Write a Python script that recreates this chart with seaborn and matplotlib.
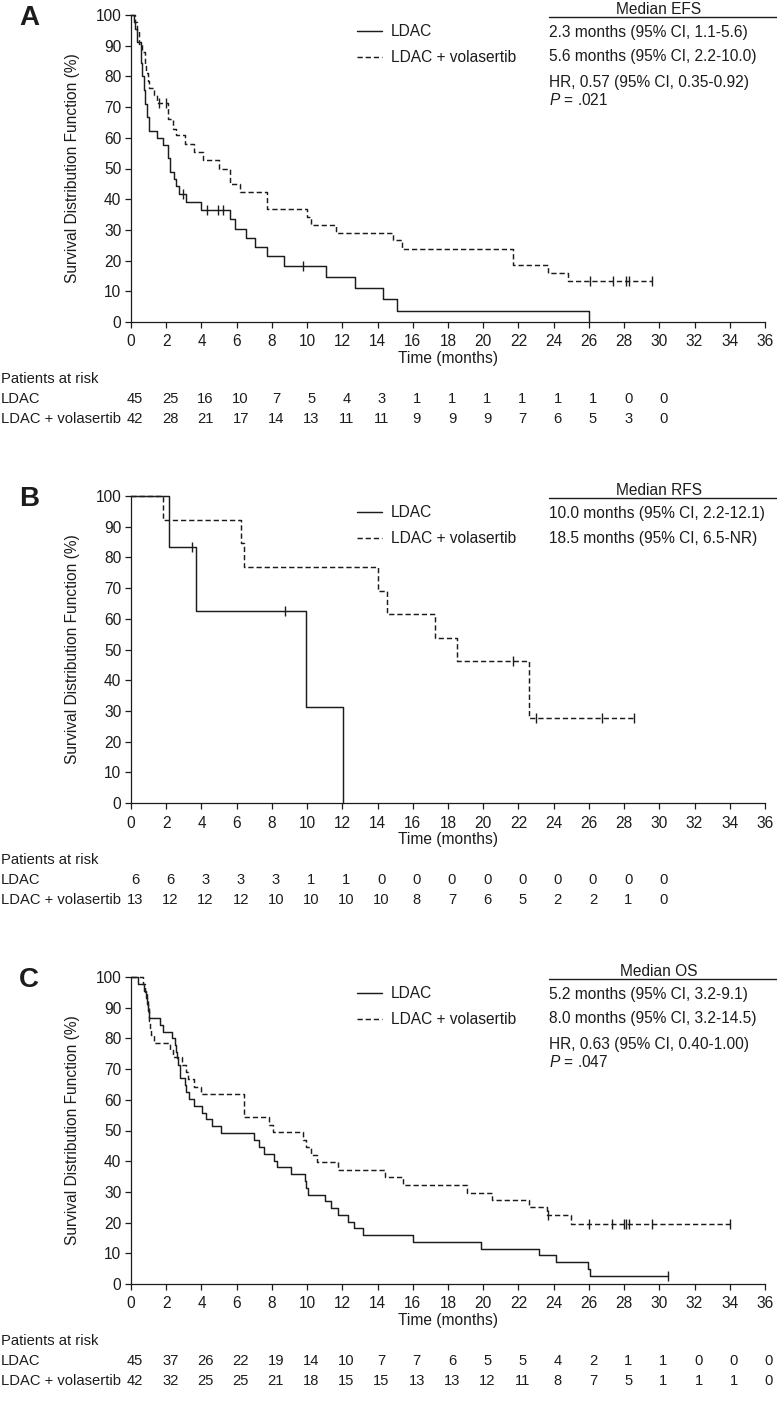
import numpy as np
import pandas as pd
import matplotlib
matplotlib.use("Agg")
import matplotlib.pyplot as plt
import matplotlib.transforms as mtransforms
from matplotlib.lines import Line2D
import seaborn as sns

# ------------------------------------------------------------------ data
tick_months = list(range(0, 37, 2))
risk_months_ab = list(range(0, 31, 2))
risk_months_c = list(range(0, 37, 2))

# Panel A - EFS
a_ldac_t = [0, 0.15, 0.25, 0.35, 0.55, 0.65, 0.75, 0.82, 0.9, 1.0, 1.5, 1.8, 2.1, 2.2,
            2.45, 2.55, 2.7, 3.15, 4.0, 5.6, 5.9, 6.55, 7.05, 7.75, 8.7, 11.1, 12.7,
            14.3, 15.1, 26.0]
a_ldac_s = [100, 97.8, 95.6, 91.1, 84.4, 80.0, 75.6, 71.1, 66.7, 62.2, 60.0, 57.8, 53.3, 48.9,
            46.7, 44.4, 41.8, 39.0, 36.6, 33.6, 30.4, 27.3, 24.4, 21.4, 18.4, 14.7, 11.0,
            7.4, 3.7, 0.0]
a_ldac_cens = [2.95, 4.3, 4.95, 5.25, 9.75]

a_vol_t = [0, 0.23, 0.35, 0.46, 0.62, 0.77, 0.85, 0.97, 1.05, 1.29, 1.45, 2.10, 2.39, 2.55,
           3.09, 3.59, 4.09, 5.02, 5.60, 6.18, 7.70, 9.98, 10.23, 11.62, 14.9, 15.4, 21.7,
           23.7, 24.8, 29.6]
a_vol_s = [100, 97.6, 95.2, 90.5, 88.1, 83.3, 81.0, 78.6, 76.2, 73.8, 71.4, 66.0, 63.0, 60.8,
           58.0, 55.5, 52.8, 50.0, 44.8, 42.3, 36.8, 34.3, 31.7, 29.0, 26.6, 23.9, 18.7,
           16.0, 13.3, 13.3]
a_vol_cens = [1.6, 1.97, 26.05, 27.35, 28.1, 28.25, 29.6]

a_risk_ldac = [45, 25, 16, 10, 7, 5, 4, 3, 1, 1, 1, 1, 1, 1, 0, 0]
a_risk_vol = [42, 28, 21, 17, 14, 13, 11, 11, 9, 9, 9, 7, 6, 5, 3, 0]

# Panel B - RFS
b_ldac_t = [0, 2.16, 3.67, 9.96, 12.03]
b_ldac_s = [100, 83.3, 62.5, 31.2, 0.0]
b_ldac_cens = [3.44, 8.75]

b_vol_t = [0, 1.83, 6.22, 6.41, 14.03, 14.52, 17.24, 18.53, 22.58, 28.57]
b_vol_s = [100, 92.3, 84.6, 76.9, 69.2, 61.5, 53.8, 46.1, 27.7, 27.7]
b_vol_cens = [21.7, 22.97, 26.73, 28.57]

b_risk_ldac = [6, 6, 3, 3, 3, 1, 1, 0, 0, 0, 0, 0, 0, 0, 0, 0]
b_risk_vol = [13, 12, 12, 12, 10, 10, 10, 10, 8, 7, 6, 5, 2, 2, 1, 0]

# Panel C - OS
c_ldac_t = [0, 0.42, 0.75, 0.85, 0.92, 0.98, 1.04, 1.62, 1.83, 2.35, 2.48, 2.54, 2.6, 2.67,
            2.79, 3.08, 3.12, 3.27, 3.56, 4.02, 4.27, 4.6, 5.13, 6.96, 7.29, 7.54, 8.12,
            8.31, 9.08, 9.88, 9.95, 10.04, 11.0, 11.33, 11.77, 12.35, 12.67, 13.17, 16.0,
            19.85, 23.16, 24.12, 25.97, 26.05, 30.52]
c_ldac_s = [100, 97.8, 95.6, 93.3, 91.1, 88.9, 86.7, 84.4, 82.2, 80.0, 77.8, 75.6, 73.5, 71.3,
            67.0, 64.8, 62.6, 60.2, 58.0, 55.8, 53.6, 51.4, 49.1, 46.8, 44.6, 42.4, 40.2,
            38.0, 35.8, 33.5, 31.3, 29.1, 26.9, 24.7, 22.5, 20.3, 18.1, 15.9, 13.7,
            11.5, 9.3, 7.1, 4.9, 2.6, 2.6]
c_ldac_cens = [30.52]

c_vol_t = [0, 0.67, 0.8, 0.9, 0.95, 1.0, 1.05, 1.1, 1.15, 1.3, 2.19, 2.4, 2.92, 3.1, 3.21,
           3.56, 3.98, 6.44, 7.83, 8.08, 9.75, 9.94, 10.23, 10.56, 11.77, 14.42, 15.42,
           19.08, 20.52, 22.58, 23.6, 25.0, 34.0]
c_vol_s = [100, 97.6, 95.2, 92.9, 90.5, 88.1, 85.7, 83.3, 81.0, 78.6, 76.2, 73.8, 71.4, 69.0,
           66.7, 64.3, 61.9, 54.3, 51.7, 49.4, 47.0, 44.5, 42.1, 39.6, 37.2, 34.7, 32.2,
           29.8, 27.4, 25.0, 22.6, 19.7, 19.7]
c_vol_cens = [23.7, 26.0, 27.3, 28.0, 28.1, 28.25, 29.6, 34.0]

c_risk_ldac = [45, 37, 26, 22, 19, 14, 10, 7, 7, 6, 5, 5, 4, 2, 1, 1, 0, 0, 0]
c_risk_vol = [42, 32, 25, 25, 21, 18, 15, 15, 13, 13, 12, 11, 8, 7, 5, 1, 1, 1, 0]

group_names = ["LDAC", "LDAC + volasertib"]

panels = [
    dict(letter="A", header="Median EFS",
         rows=["2.3 months (95% CI, 1.1-5.6)", "5.6 months (95% CI, 2.2-10.0)",
               "HR, 0.57 (95% CI, 0.35-0.92)"], pval=".021",
         ldac=(a_ldac_t, a_ldac_s, a_ldac_cens), vol=(a_vol_t, a_vol_s, a_vol_cens),
         risk_t=risk_months_ab, risk_ldac=a_risk_ldac, risk_vol=a_risk_vol),
    dict(letter="B", header="Median RFS",
         rows=["10.0 months (95% CI, 2.2-12.1)", "18.5 months (95% CI, 6.5-NR)"], pval=None,
         ldac=(b_ldac_t, b_ldac_s, b_ldac_cens), vol=(b_vol_t, b_vol_s, b_vol_cens),
         risk_t=risk_months_ab, risk_ldac=b_risk_ldac, risk_vol=b_risk_vol),
    dict(letter="C", header="Median OS",
         rows=["5.2 months (95% CI, 3.2-9.1)", "8.0 months (95% CI, 3.2-14.5)",
               "HR, 0.63 (95% CI, 0.40-1.00)"], pval=".047",
         ldac=(c_ldac_t, c_ldac_s, c_ldac_cens), vol=(c_vol_t, c_vol_s, c_vol_cens),
         risk_t=risk_months_c, risk_ldac=c_risk_ldac, risk_vol=c_risk_vol),
]

# ------------------------------------------------------------------ style
sns.set_theme(style="ticks")
plt.rcParams["font.family"] = ["Liberation Sans", "DejaVu Sans"]
plt.rcParams["mathtext.fontset"] = "custom"
plt.rcParams["mathtext.it"] = "Liberation Sans:italic"
plt.rcParams["mathtext.rm"] = "Liberation Sans"

INK = "#1c1c1c"
W, H = 777, 1409
fig = plt.figure(figsize=(W / 100, H / 100), dpi=100)
fig.patch.set_facecolor("white")

AX_L, AX_R, AX_H = 131.0, 765.0, 307.0
panel_tops = [15, 496, 977]
FS = 11.2
FS_RISK = 10.6


def fy(py):
    return 1 - py / H


def fx(px):
    return px / W


def step_value(times, surv, tc):
    idx = np.searchsorted(np.asarray(times), tc, side="right") - 1
    return np.asarray(surv)[idx]


for p, T in zip(panels, panel_tops):
    ax = fig.add_axes([fx(AX_L), fy(T + AX_H), (AX_R - AX_L) / W, AX_H / H])
    ax.set_facecolor("white")

    for (times, surv, cens), name, ls in zip([p["ldac"], p["vol"]], group_names,
                                              ["-", (0, (3.6, 2.0))]):
        df = pd.DataFrame({"t": times, "s": surv})
        sns.lineplot(data=df, x="t", y="s", ax=ax, drawstyle="steps-post",
                     estimator=None, sort=False, color=INK, lw=1.05,
                     linestyle=ls, label=name, clip_on=False, zorder=3)
        cdf = pd.DataFrame({"t": cens, "s": [step_value(times, surv, c) for c in cens]})
        sns.scatterplot(data=cdf, x="t", y="s", ax=ax, marker="|", s=55,
                        color=INK, linewidth=1.0, clip_on=False, zorder=4, legend=False)

    ax.set_xlim(0, 36)
    ax.set_ylim(0, 100)
    ax.set_xticks(tick_months)
    ax.set_yticks(range(0, 101, 10))
    sns.despine(ax=ax)
    for sp in ["left", "bottom"]:
        ax.spines[sp].set_color(INK)
        ax.spines[sp].set_linewidth(0.9)
    ax.tick_params(axis="both", direction="out", length=4, width=0.9, color=INK,
                   labelsize=FS, labelcolor=INK, pad=3)
    ax.tick_params(axis="x", pad=5)
    ax.grid(False)

    ax.set_xlabel("Time (months)", fontsize=FS, color=INK)
    ax.xaxis.set_label_coords(0.5, -29 / AX_H)
    ax.set_ylabel("Survival Distribution Function (%)", fontsize=FS, color=INK)
    ax.yaxis.set_label_coords((80 - AX_L) / (AX_R - AX_L), 0.5)

    # legend
    ax.legend(loc="upper left", bbox_to_anchor=(fx(357), fy(T + 9)),
              bbox_transform=fig.transFigure, frameon=False, fontsize=FS,
              handlelength=1.6, handletextpad=0.6, labelspacing=0.72,
              borderpad=0, borderaxespad=0, labelcolor=INK)

    # panel letter
    fig.text(fx(29), fy(T + 3), p["letter"], fontsize=20, fontweight="bold",
             ha="center", va="center", color=INK)

    # median table
    fig.text(fx(659), fy(T - 6), p["header"], fontsize=FS, ha="center", va="center",
             color=INK)
    fig.add_artist(Line2D([fx(549), fx(777)], [fy(T + 2), fy(T + 2)],
                          color=INK, lw=1.0, transform=fig.transFigure))
    row_y = [T + 17.5, T + 42, T + 67]
    for txt, yy in zip(p["rows"], row_y):
        fig.text(fx(549), fy(yy), txt, fontsize=FS, ha="left", va="center", color=INK)
    if p["pval"]:
        fig.text(fx(549), fy(T + 85), r"$P$ = " + p["pval"], fontsize=FS,
                 ha="left", va="center", color=INK)

    # risk table
    blend = mtransforms.blended_transform_factory(ax.transData, fig.transFigure)
    blend = mtransforms.offset_copy(blend, fig=fig, x=4, y=0, units="dots")
    fig.text(fx(1), fy(T + 364), "Patients at risk", fontsize=FS_RISK, ha="left",
             va="center", color=INK)
    fig.text(fx(1), fy(T + 384), group_names[0], fontsize=FS_RISK, ha="left",
             va="center", color=INK)
    fig.text(fx(1), fy(T + 404), group_names[1], fontsize=FS_RISK, ha="left",
             va="center", color=INK)
    for tm, n1, n2 in zip(p["risk_t"], p["risk_ldac"], p["risk_vol"]):
        ax.text(tm, fy(T + 384), str(n1), transform=blend, ha="center", va="center",
                fontsize=FS_RISK, color=INK, clip_on=False)
        ax.text(tm, fy(T + 404), str(n2), transform=blend, ha="center", va="center",
                fontsize=FS_RISK, color=INK, clip_on=False)

fig.savefig("out.png", dpi=100, facecolor="white")
